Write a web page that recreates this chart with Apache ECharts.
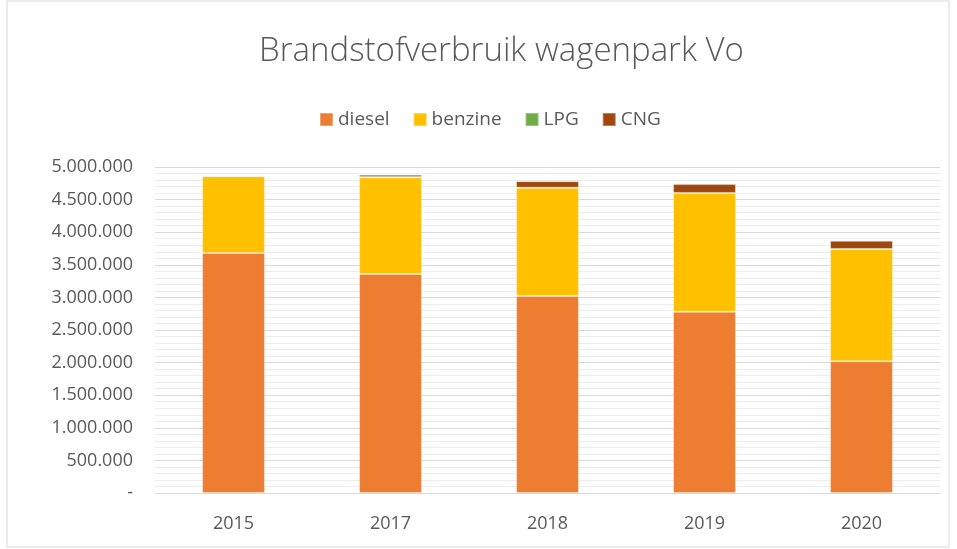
<!DOCTYPE html>
<html>
<head>
<meta charset="utf-8">
<script src="https://cdn.jsdelivr.net/npm/echarts@6/dist/echarts.min.js"></script>
<style>
  html, body { margin: 0; padding: 0; background: #fff; }
  #chart { width: 957px; height: 549px; }
</style>
</head>
<body>
<div id="chart"></div>
<script>
// jaren en verbruik per brandstof (liters)
const years = ['2015', '2017', '2018', '2019', '2020'];
const diesel = [3680000, 3360000, 3020000, 2780000, 2020000];
const benzine = [1180000, 1480000, 1660000, 1820000, 1720000];
const lpg = [5000, 5000, 3000, 3000, 2000];
const cng = [10000, 35000, 100000, 135000, 125000];

const myChart = echarts.init(document.getElementById('chart'));

const fmt = v => v === 0 ? '-' : v.toString().replace(/\B(?=(\d{3})+(?!\d))/g, '.');

const barStyle = color => ({ color: color, borderColor: 'rgba(255,255,255,0.3)', borderWidth: 1 });

myChart.setOption({
  animation: false,
  textStyle: { fontFamily: 'Open Sans' },
  graphic: [{
    type: 'rect',
    shape: { x: 7, y: 1, width: 942, height: 546 },
    style: { fill: 'none', stroke: '#d9d9d9', lineWidth: 1 }
  }],
  title: {
    text: 'Brandstofverbruik wagenpark Vo',
    left: 254,
    top: 30,
    textStyle: { fontSize: 33, fontWeight: 300, color: '#595959', fontFamily: 'Open Sans' }
  },
  legend: {
    top: 105,
    left: 314,
    itemWidth: 13,
    itemHeight: 13,
    itemGap: 23,
    icon: 'rect',
    textStyle: { fontSize: 19, color: '#595959' },
    data: ['diesel', 'benzine', 'LPG', 'CNG']
  },
  grid: { left: 155, right: 17, top: 167, bottom: 56, containLabel: false },
  xAxis: {
    type: 'category',
    data: years,
    axisLine: { lineStyle: { color: '#d9d9d9', width: 1 } },
    axisTick: { show: false },
    axisLabel: { fontSize: 18, color: '#595959', margin: 22 }
  },
  yAxis: {
    type: 'value',
    min: 0,
    max: 5000000,
    interval: 500000,
    axisLine: { show: false },
    axisTick: { show: false },
    axisLabel: { fontSize: 18, color: '#595959', margin: 22, formatter: fmt },
    splitLine: { lineStyle: { color: '#d9d9d9', width: 1 } },
    minorTick: { show: false, splitNumber: 5 },
    minorSplitLine: { show: true, lineStyle: { color: '#ececec', width: 1 } }
  },
  series: [
    { name: 'diesel', type: 'bar', stack: 'tot', barWidth: '40%', data: diesel, itemStyle: barStyle('#ed7d31') },
    { name: 'benzine', type: 'bar', stack: 'tot', data: benzine, itemStyle: barStyle('#ffc000') },
    { name: 'LPG', type: 'bar', stack: 'tot', data: lpg, itemStyle: barStyle('#70ad47') },
    { name: 'CNG', type: 'bar', stack: 'tot', data: cng, itemStyle: barStyle('#9e480e') }
  ]
});
</script>
</body>
</html>
